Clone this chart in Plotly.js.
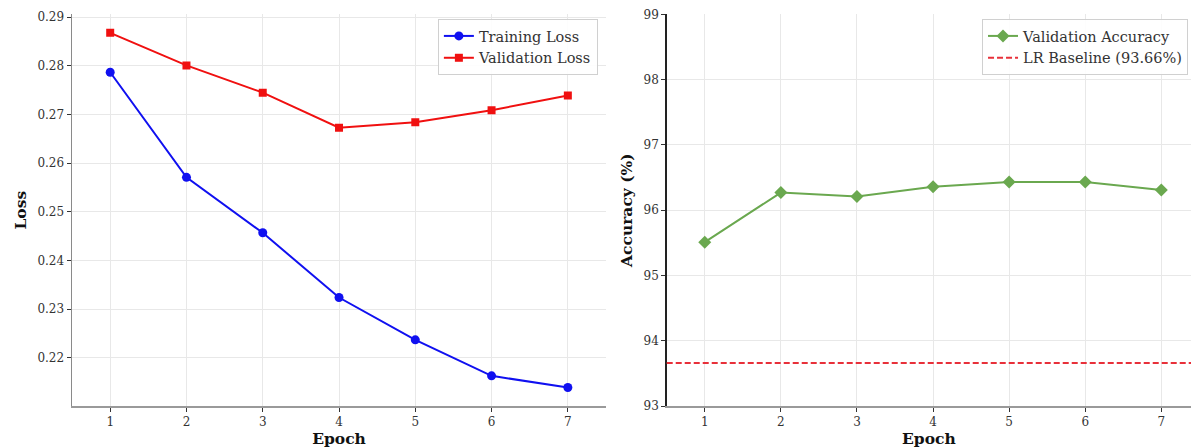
<!DOCTYPE html>
<html>
<head>
<meta charset="utf-8">
<script src="https://cdn.plot.ly/plotly-3.0.1.min.js"></script>
<style>html,body{margin:0;padding:0;background:#fff;}#chart{width:1191px;height:448px;}</style>
</head>
<body>
<div id="chart"></div>
<script>
const epochs = [1, 2, 3, 4, 5, 6, 7];
const trainingLoss = [0.2787, 0.2571, 0.2457, 0.2324, 0.2237, 0.2163, 0.2139];
const validationLoss = [0.2868, 0.2801, 0.2745, 0.2673, 0.2684, 0.2709, 0.2739];
const validationAccuracy = [95.51, 96.27, 96.21, 96.36, 96.43, 96.43, 96.31];
const lrBaseline = 93.66;
const lossTicks = [0.22, 0.23, 0.24, 0.25, 0.26, 0.27, 0.28, 0.29];
const accTicks = [93, 94, 95, 96, 97, 98, 99];

const FONT = 'DejaVu Serif, serif';
const tickFont = {family: FONT, size: 12, color: '#333'};
const titleFont = {family: FONT, size: 15.5, color: '#111', weight: 'bold'};
const legendFont = {family: FONT, size: 14.5, color: '#333'};

const traces = [
  {x: epochs, y: trainingLoss, name: 'Training Loss', type: 'scatter', mode: 'lines+markers',
   line: {color: '#1010f0', width: 2}, marker: {symbol: 'circle', size: 9, color: '#1010f0'},
   xaxis: 'x', yaxis: 'y', legend: 'legend'},
  {x: epochs, y: validationLoss, name: 'Validation Loss', type: 'scatter', mode: 'lines+markers',
   line: {color: '#f01010', width: 2}, marker: {symbol: 'square', size: 8, color: '#f01010'},
   xaxis: 'x', yaxis: 'y', legend: 'legend'},
  {x: epochs, y: validationAccuracy, name: 'Validation Accuracy', type: 'scatter', mode: 'lines+markers',
   line: {color: '#6aa84f', width: 2}, marker: {symbol: 'diamond', size: 10, color: '#6aa84f'},
   xaxis: 'x2', yaxis: 'y2', legend: 'legend2'}
];

const axisCommon = {
  showline: true, linecolor: '#9a9a9a', linewidth: 2, mirror: false,
  ticks: 'outside', ticklen: 4, tickcolor: '#333', tickwidth: 1,
  showgrid: true, gridcolor: '#e8e8e8', gridwidth: 1, zeroline: false,
  tickfont: tickFont
};

const layout = {
  width: 1191, height: 448,
  margin: {l: 0, r: 0, t: 0, b: 0},
  paper_bgcolor: '#fff', plot_bgcolor: '#fff',
  font: {family: FONT, size: 12, color: '#333'},
  xaxis: Object.assign({}, axisCommon, {
    domain: [0.0605, 0.5088], range: [0.5, 7.5], tickvals: epochs, anchor: 'y',
    title: {text: 'Epoch', font: titleFont, standoff: 9}
  }),
  yaxis: Object.assign({}, axisCommon, {
    domain: [0.0937, 0.968], range: [0.2101, 0.2906], tickvals: lossTicks,
    tickformat: '.2f', anchor: 'x', linewidth: 1.5, linecolor: '#8a8a8a',
    title: {text: 'Loss', font: titleFont, standoff: 7}
  }),
  xaxis2: Object.assign({}, axisCommon, {
    domain: [0.5598, 1], range: [0.5, 7.39], tickvals: epochs, anchor: 'y2',
    title: {text: 'Epoch', font: titleFont, standoff: 9}
  }),
  yaxis2: Object.assign({}, axisCommon, {
    domain: [0.0937, 0.968], range: [93, 99], tickvals: accTicks, anchor: 'x2',
    linecolor: '#222', linewidth: 1.5,
    title: {text: 'Accuracy (%)', font: titleFont, standoff: 7}
  }),
  legend: {
    x: 0.502, xanchor: 'right', y: 0.9576, yanchor: 'top',
    bgcolor: 'rgba(255,255,255,0.9)', bordercolor: '#d0d0d0', borderwidth: 1,
    font: legendFont, tracegroupgap: 0, itemwidth: 30
  },
  legend2: {
    x: 0.9975, xanchor: 'right', y: 0.9576, yanchor: 'top',
    bgcolor: 'rgba(255,255,255,0.9)', bordercolor: '#d0d0d0', borderwidth: 1,
    font: legendFont, tracegroupgap: 0, itemwidth: 30
  },
  shapes: [{
    type: 'line', xref: 'x2 domain', yref: 'y2', x0: 0, x1: 1, y0: lrBaseline, y1: lrBaseline,
    line: {color: '#e8303a', width: 2, dash: '6px,3px'},
    showlegend: true, legend: 'legend2', name: 'LR Baseline (' + lrBaseline.toFixed(2) + '%)'
  }],
  showlegend: true
};

Plotly.newPlot('chart', traces, layout, {displayModeBar: false, staticPlot: true});
</script>
</body>
</html>
